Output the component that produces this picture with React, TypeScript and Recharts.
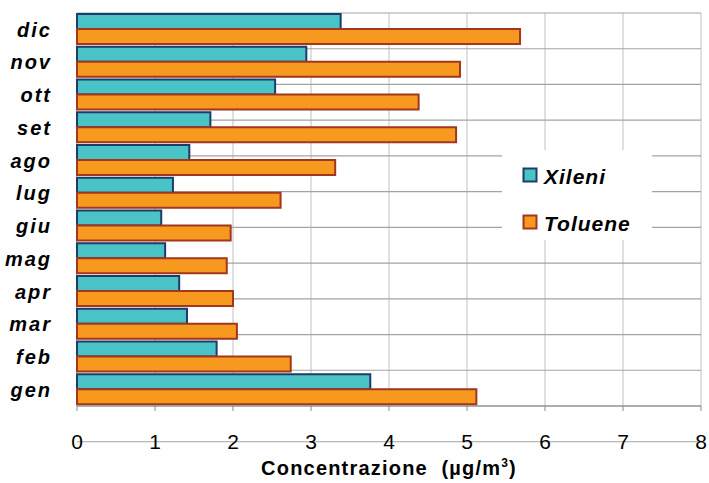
import React from 'react';
import { BarChart, Bar, XAxis, YAxis, CartesianGrid, Legend } from 'recharts';

const months = ['gen', 'feb', 'mar', 'apr', 'mag', 'giu', 'lug', 'ago', 'set', 'ott', 'nov', 'dic'];
const xileni = [3.76, 1.79, 1.41, 1.31, 1.13, 1.08, 1.23, 1.44, 1.71, 2.54, 2.94, 3.38];
const toluene = [5.12, 2.74, 2.05, 2.0, 1.92, 1.97, 2.61, 3.31, 4.86, 4.38, 4.91, 5.68];
const seriesNames = ['Xileni', 'Toluene'];
const xTicks = [0, 1, 2, 3, 4, 5, 6, 7, 8];
const gridTicks = [0, 1, 2, 3, 4, 5, 6, 7, 8, 9, 10, 11, 12];

const data = months.map((m, i) => ({ month: m, xileni: xileni[i], toluene: toluene[i] }));

const FONT = '"Liberation Sans", Arial, sans-serif';
const TEAL = '#4AC3C6';
const TEAL_STROKE = '#1F3B6A';
const ORANGE = '#F7981F';
const ORANGE_STROKE = '#A3361E';

const CatTick = (props: any) => {
  const { x, y, payload } = props;
  return (
    <text x={x - 17} y={y} dy="0.36em" textAnchor="end" fontFamily={FONT} fontSize={20}
      fontWeight="bold" fontStyle="italic" letterSpacing={2} fill="#000">
      {payload.value}
    </text>
  );
};

const NumTick = (props: any) => {
  const { x, y, payload } = props;
  return (
    <text x={x} y={y + 36} textAnchor="middle" fontFamily={FONT} fontSize={21} fill="#000">
      {payload.value}
    </text>
  );
};

const EmptyTick = () => <g />;

const AxisTitle = (props: any) => {
  const vb = props.viewBox || { x: 77, y: 406, width: 624, height: 77 };
  const cx = vb.x + vb.width / 2;
  return (
    <text x={cx} y={vb.y + 69} textAnchor="middle" fontFamily={FONT} fontSize={20}
      fontWeight="bold" letterSpacing={1.2} fill="#000">
      {'Concentrazione\u00a0\u00a0(µg/m'}
      <tspan dy={-8} fontSize={12}>3</tspan>
      <tspan dy={8}>)</tspan>
    </text>
  );
};

const LegendContent = (props: any) => {
  const payload = [...(props.payload || [])].sort(
    (a: any, b: any) => seriesNames.indexOf(a.value) - seriesNames.indexOf(b.value)
  );
  return (
    <svg width={150} height={90} style={{ display: 'block', background: '#fff' }}>
      {payload.map((entry: any, i: number) => {
        const top = 18.5 + i * 47;
        const stroke = (entry.payload && entry.payload.stroke) || '#333';
        return (
          <g key={entry.value}>
            <rect x={21.5} y={top} width={13} height={13} fill={entry.color} stroke={stroke} strokeWidth={2} />
            <text x={42} y={top + 15} fontFamily={FONT} fontSize={21} fontWeight="bold"
              fontStyle="italic" letterSpacing={1} fill="#000">
              {entry.value}
            </text>
          </g>
        );
      })}
    </svg>
  );
};

export default function App() {
  return (
    <div style={{ position: 'absolute', left: 0, top: 0, width: 709, height: 483, background: '#fff' }}>
      <BarChart
        width={709}
        height={483}
        data={data}
        layout="vertical"
        margin={{ top: 13, right: 8, bottom: 0, left: 0 }}
        barCategoryGap={1}
        barGap={0}
      >
        <CartesianGrid vertical horizontal={false} stroke="#cccccc" strokeWidth={1.2} />
        <CartesianGrid yAxisId="grid" vertical={false} horizontal stroke="#a3a3a3" strokeWidth={1.2} />
        <XAxis
          type="number"
          domain={[0, 8]}
          ticks={xTicks}
          interval={0}
          height={77}
          stroke="#8a8a8a"
          tickSize={5}
          tick={<NumTick />}
          label={<AxisTitle />}
        />
        <YAxis
          yAxisId="grid"
          type="number"
          domain={[0, 12]}
          ticks={gridTicks}
          interval={0}
          width={0}
          orientation="left"
          stroke="#222"
          tickSize={6}
          tick={<EmptyTick />}
          allowDataOverflow
        />
        <YAxis
          yAxisId="cat"
          type="category"
          dataKey="month"
          reversed
          width={77}
          axisLine={false}
          tickLine={false}
          interval={0}
          tick={<CatTick />}
        />
        <Legend
          layout="vertical"
          align="center"
          verticalAlign="middle"
          content={<LegendContent />}
          wrapperStyle={{ position: 'absolute', left: 502, top: 150, width: 150, height: 90 }}
        />
        <Bar yAxisId="cat" dataKey="xileni" name="Xileni" fill={TEAL} stroke={TEAL_STROKE}
          strokeWidth={2} isAnimationActive={false} />
        <Bar yAxisId="cat" dataKey="toluene" name="Toluene" fill={ORANGE} stroke={ORANGE_STROKE}
          strokeWidth={2} isAnimationActive={false} />
      </BarChart>
    </div>
  );
}
